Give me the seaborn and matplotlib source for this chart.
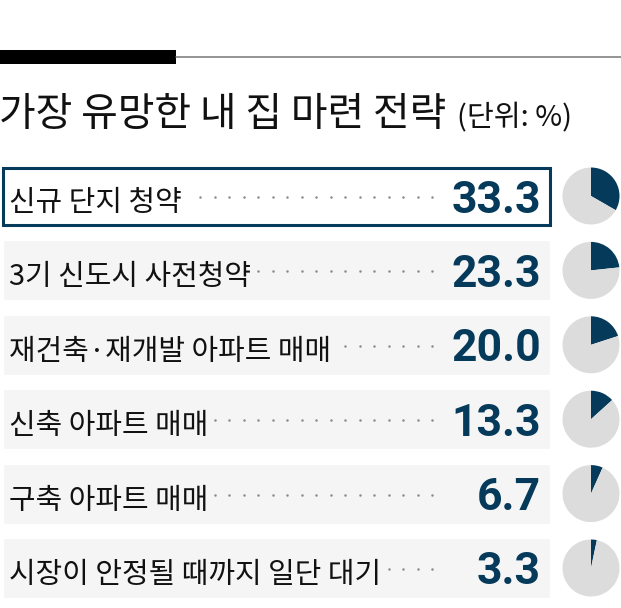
import matplotlib
matplotlib.use("Agg")
import matplotlib.pyplot as plt
import seaborn as sns
import pandas as pd
from matplotlib.patches import Rectangle
from matplotlib.lines import Line2D

# ---- data ----
categories = [
    "신규 단지 청약",
    "3기 신도시 사전청약",
    "재건축·재개발 아파트 매매",
    "신축 아파트 매매",
    "구축 아파트 매매",
    "시장이 안정될 때까지 일단 대기",
]
values = [33.3, 23.3, 20.0, 13.3, 6.7, 3.3]
value_labels = ["33.3", "23.3", "20.0", "13.3", "6.7", "3.3"]
title_text = "가장 유망한 내 집 마련 전략"
unit_text = "(단위: %)"

# ---- style ----
NAVY = "#053a5b"
PIE_GRAY = "#dcdcdc"
BOX = "#f5f5f5"
DOT = "#8c8c8c"

W, H = 621, 608
sns.set_style("white")
plt.rcParams["font.family"] = ["Noto Sans CJK KR", "DejaVu Sans"]

fig = plt.figure(figsize=(W / 100, H / 100), dpi=100)
fig.patch.set_facecolor("white")

ROW0 = 196.0   # pixel y of first row centre
STEP = 74.4    # pixel distance between rows
BOX_H = 60.0
BOX_L, BOX_R = 3.0, 550.0

top_px = ROW0 - STEP / 2
bot_px = ROW0 + (len(categories) - 1) * STEP + STEP / 2
ax = fig.add_axes([0, 1 - bot_px / H, 1, (bot_px - top_px) / H])


def dx(px):
    return px - BOX_L


def dy(py):
    return (py - ROW0) / STEP


df = pd.DataFrame({"category": categories})
df["box"] = BOX_R - BOX_L
sns.barplot(data=df, x="box", y="category", orient="h", color=BOX,
            saturation=1, width=BOX_H / STEP, ax=ax)
ax.set_xlim(dx(0), dx(W))
ax.set_ylim(len(categories) - 0.5, -0.5)
ax.axis("off")

# highlight first row
p0 = ax.patches[0]
p0.set_facecolor("white")
p0.set_edgecolor(NAVY)
p0.set_linewidth(2.2)
p0.set_height(57 / STEP)
p0.set_y(-57 / STEP / 2)

label_texts = []
for i, (cat, lab) in enumerate(zip(categories, value_labels)):
    cy = ROW0 + i * STEP
    t = ax.text(dx(9), dy(cy + 15), cat, fontsize=20.8, color="#111111",
                ha="left", va="baseline")
    label_texts.append(t)
    ax.text(dx(541), dy(cy + 16.5), lab, fontsize=32, family=["Roboto", "DejaVu Sans"],
            fontweight="bold", color=NAVY, ha="right", va="baseline")

# dotted leaders
fig.canvas.draw()
renderer = fig.canvas.get_renderer()
for i, t in enumerate(label_texts):
    cy = ROW0 + i * STEP
    end_px = t.get_window_extent(renderer).x1
    xs = []
    x = 432.0
    while x > end_px + 5:
        xs.append(dx(x))
        x -= 14.5
    ax.plot(xs, [dy(cy + 1)] * len(xs), "o", ms=1.8, color=DOT, mec="none")

# pies
R = 28.5
for i, v in enumerate(values):
    cy = ROW0 + i * STEP
    pax = fig.add_axes([(591 - R) / W, 1 - (cy + R) / H, 2 * R / W, 2 * R / H])
    pax.pie([v, 100 - v], colors=[NAVY, PIE_GRAY], startangle=90,
            counterclock=False, radius=1,
            wedgeprops={"linewidth": 0})
    pax.set_xlim(-1, 1)
    pax.set_ylim(-1, 1)
    pax.set_aspect("equal")
    pax.axis("off")

# header decoration
fig.add_artist(Rectangle((0, 1 - 64 / H), 176 / W, 14 / H, transform=fig.transFigure,
                         facecolor="black", edgecolor="none"))
fig.add_artist(Line2D([176 / W, 1], [1 - 57 / H, 1 - 57 / H], transform=fig.transFigure,
                      color="#777777", linewidth=1.1))

fig.text(-1 / W, 1 - 126 / H, title_text, fontsize=28.7, fontweight="medium",
         color="#111111", ha="left", va="baseline")
fig.text(457 / W, 1 - 126 / H, unit_text, fontsize=21, color="#111111",
         ha="left", va="baseline")

fig.savefig("out.png", dpi=100, facecolor="white")
